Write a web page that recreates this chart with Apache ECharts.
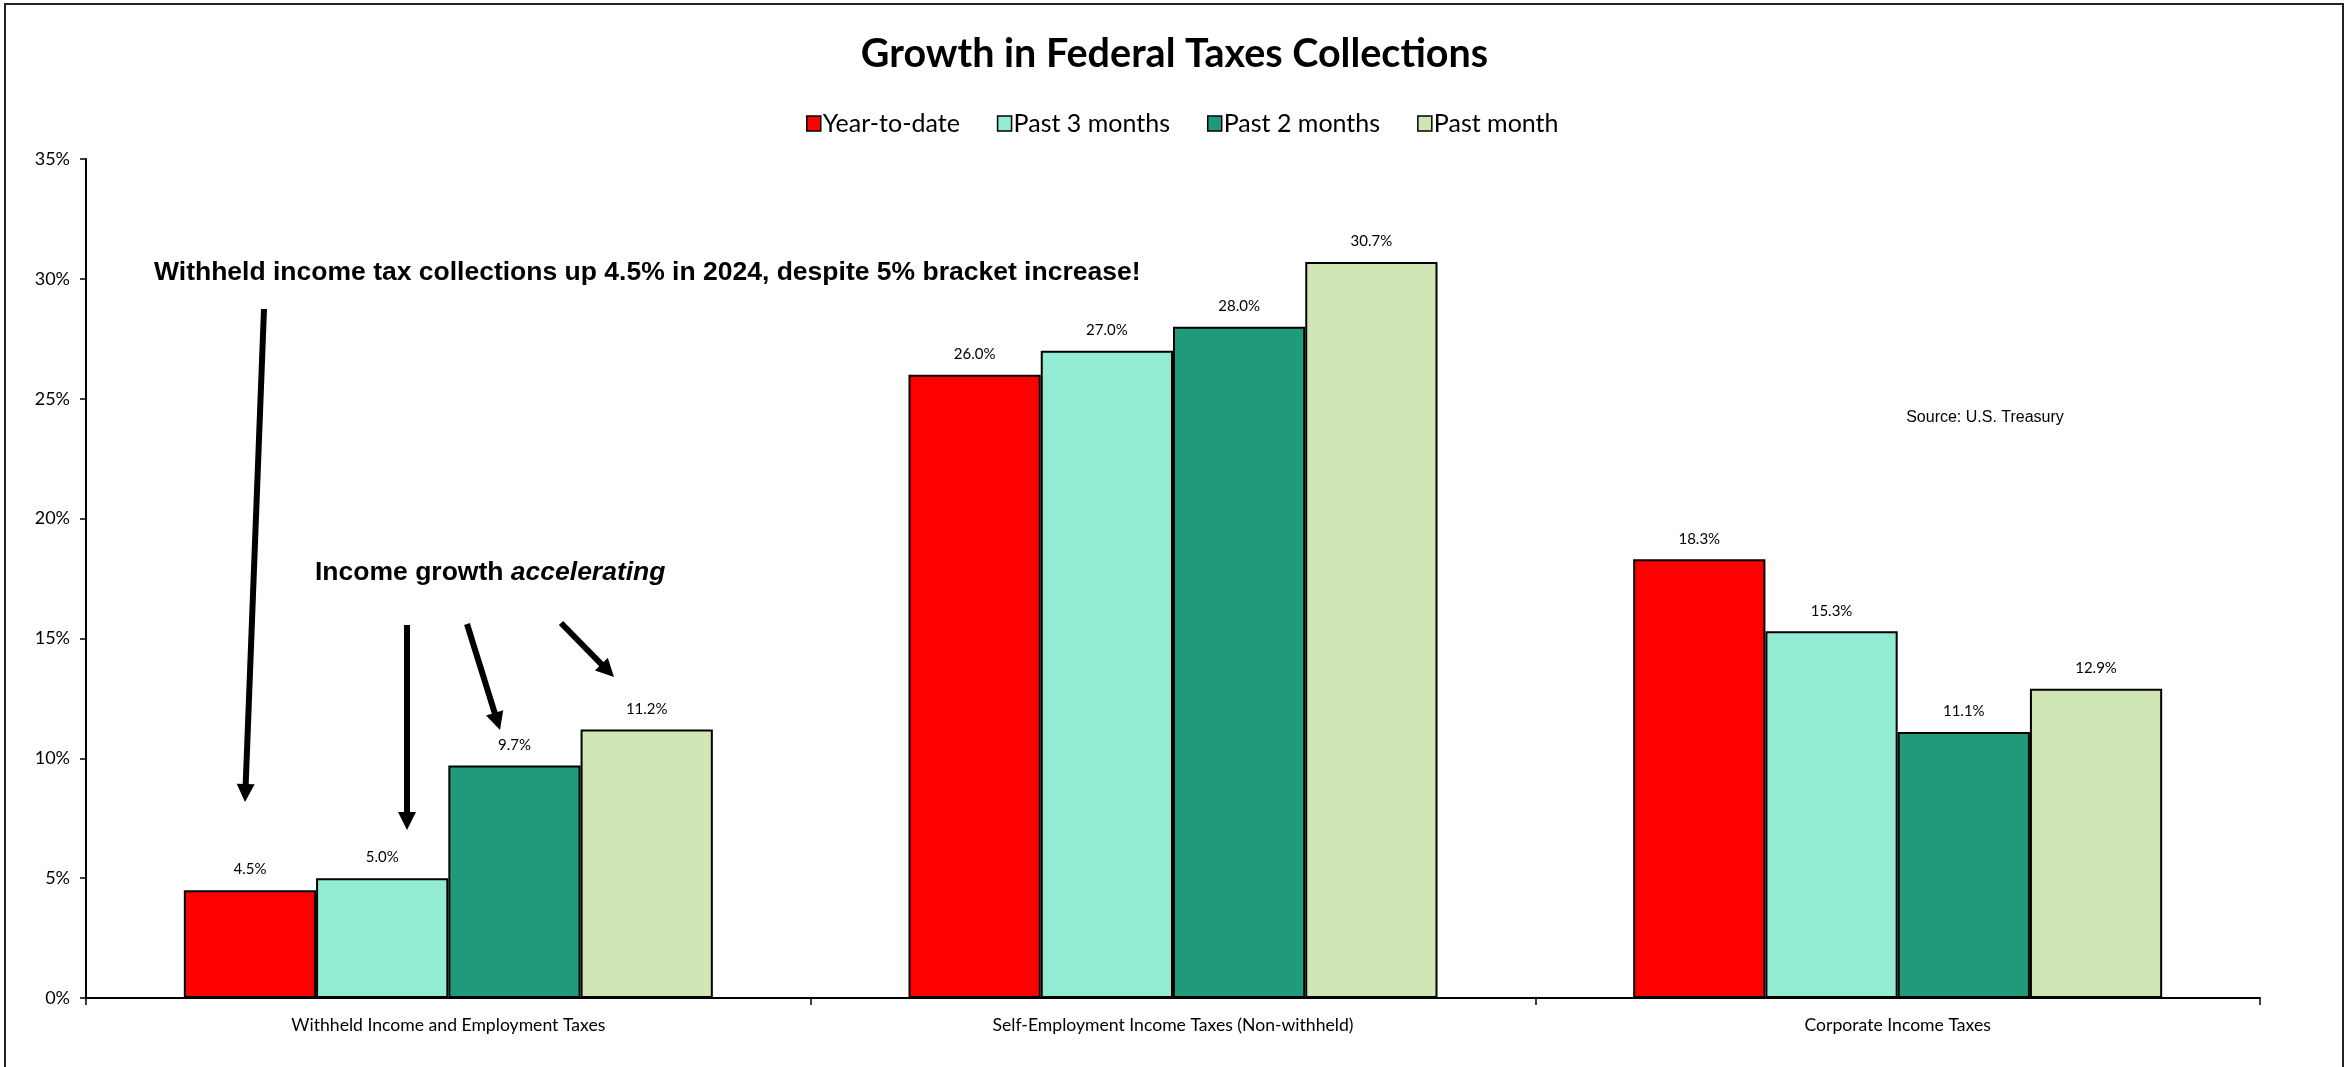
<!DOCTYPE html>
<html>
<head>
<meta charset="utf-8">
<script src="https://cdn.jsdelivr.net/npm/echarts@6/dist/echarts.min.js"></script>
<style>
  html, body { margin: 0; padding: 0; background: #fff; }
  #chart { width: 2349px; height: 1067px; }
</style>
</head>
<body>
<div id="chart"></div>
<script>
// Tax categories along the x axis
const categories = [
  'Withheld Income and Employment Taxes',
  'Self-Employment Income Taxes (Non-withheld)',
  'Corporate Income Taxes'
];
// Growth rates (%) per period
const yearToDate   = [4.5, 26.0, 18.3];
const past3Months  = [5.0, 27.0, 15.3];
const past2Months  = [9.7, 28.0, 11.1];
const pastMonth    = [11.2, 30.7, 12.9];
// Y axis tick values
const yTicks = [0, 5, 10, 15, 20, 25, 30, 35];

const seriesNames  = ['Year-to-date', 'Past 3 months', 'Past 2 months', 'Past month'];
const seriesValues = [yearToDate, past3Months, past2Months, pastMonth];
const seriesColors = ['#FF0000', '#93EBD4', '#1F9B7B', '#D1E6B5'];

const chart = echarts.init(document.getElementById('chart'));

const bodyFont = 'Lato';
const noteFont = 'Liberation Sans';

// arrow made of a thick line and a triangular head
function arrow(x1, y1, x2, y2) {
  const head = 18, half = 9;
  const dx = x2 - x1, dy = y2 - y1;
  const len = Math.sqrt(dx * dx + dy * dy);
  const ux = dx / len, uy = dy / len;
  const bx = x2 - ux * head, by = y2 - uy * head;
  return [
    { type: 'line', shape: { x1: x1, y1: y1, x2: bx + ux * 2, y2: by + uy * 2 },
      style: { stroke: '#000', lineWidth: 6 }, z: 100 },
    { type: 'polygon', shape: { points: [[x2, y2], [bx - uy * half, by + ux * half], [bx + uy * half, by - ux * half]] },
      style: { fill: '#000' }, z: 100 }
  ];
}

const option = {
  backgroundColor: '#fff',
  animation: false,
  title: {
    text: 'Growth in Federal Taxes Collections',
    left: 'center',
    top: 29,
    textStyle: { fontFamily: bodyFont, fontWeight: 'bold', fontSize: 39.5, color: '#000' }
  },
  legend: {
    data: seriesNames,
    left: 801,
    top: 106,
    itemWidth: 14,
    itemHeight: 15,
    itemGap: 37,
    icon: 'rect',
    textStyle: { fontFamily: bodyFont, fontSize: 25, color: '#000', padding: [0, 0, 0, -3] },
    itemStyle: { borderColor: '#000', borderWidth: 1.5 }
  },
  grid: { left: 86, right: 89, top: 159, bottom: 69 },
  xAxis: {
    type: 'category',
    data: categories,
    axisLine: { lineStyle: { color: '#000', width: 2 } },
    axisTick: { show: true, length: 7, lineStyle: { color: '#000', width: 1.5 } },
    axisLabel: { fontFamily: bodyFont, fontSize: 17.6, color: '#000', margin: 18 }
  },
  yAxis: {
    type: 'value',
    min: yTicks[0],
    max: yTicks[yTicks.length - 1],
    interval: yTicks[1] - yTicks[0],
    splitLine: { show: false },
    axisLine: { show: true, lineStyle: { color: '#000', width: 2 } },
    axisTick: { show: true, length: 6, lineStyle: { color: '#000', width: 1.5 } },
    axisLabel: { fontFamily: bodyFont, fontSize: 18, color: '#000', margin: 16, formatter: '{value}%' }
  },
  series: seriesNames.map((name, i) => ({
    name: name,
    type: 'bar',
    data: seriesValues[i],
    barGap: '0%',
    barCategoryGap: '27%',
    itemStyle: { color: seriesColors[i], borderColor: '#000', borderWidth: 2 },
    label: {
      show: true,
      position: 'top',
      distance: 13,
      fontFamily: bodyFont,
      fontSize: 15,
      color: '#000',
      formatter: p => p.value.toFixed(1) + '%'
    }
  })),
  graphic: [
    { type: 'rect', shape: { x: 5, y: 4, width: 2338, height: 1080 },
      style: { fill: null, stroke: '#222', lineWidth: 2 }, silent: true, z: 0 },
    { type: 'text', x: 154, y: 273, z: 100,
      style: { text: 'Withheld income tax collections up 4.5% in 2024, despite 5% bracket increase!',
        fontFamily: noteFont, fontWeight: 'bold', fontSize: 26.5, fill: '#000', verticalAlign: 'middle' } },
    { type: 'text', x: 315, y: 573, z: 100,
      style: { rich: {
          n: { fontFamily: noteFont, fontWeight: 'bold', fontSize: 26.5, fill: '#000' },
          i: { fontFamily: noteFont, fontWeight: 'bold', fontStyle: 'italic', fontSize: 26.5, fill: '#000' }
        },
        text: '{n|Income growth }{i|accelerating}', verticalAlign: 'middle' } },
    { type: 'text', x: 1985, y: 418, z: 100,
      style: { text: 'Source: U.S. Treasury', fontFamily: noteFont, fontSize: 16, fill: '#000',
        align: 'center', verticalAlign: 'middle' } },
    ...arrow(264, 309, 245, 802),
    ...arrow(407, 625, 407, 830),
    ...arrow(467, 624, 500, 730),
    ...arrow(561, 623, 614, 677)
  ]
};

chart.setOption(option);
</script>
</body>
</html>
